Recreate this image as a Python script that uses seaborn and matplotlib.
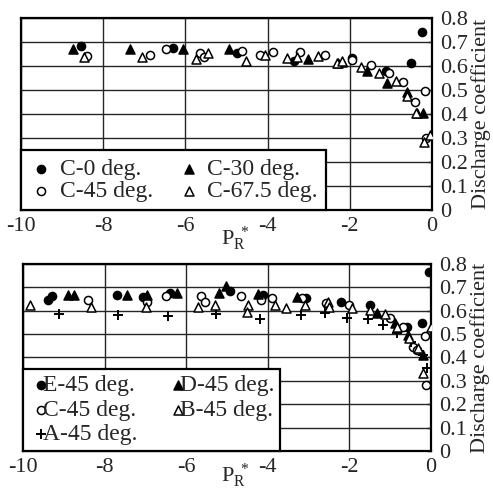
import matplotlib
matplotlib.use('Agg')
import matplotlib.pyplot as plt
import seaborn as sns

# ### Données
# Panneau du haut : configuration C, différents angles
c0_x = [-8.54, -6.31, -4.74, -3.37, -1.94, -1.12, -0.52, -0.25]
c0_y = [0.683, 0.676, 0.655, 0.622, 0.632, 0.580, 0.611, 0.743]

c30_x = [-8.74, -7.36, -6.05, -4.93, -3.02, -2.28, -2.20, -1.59, -1.09, -0.62, -0.37, -0.23]
c30_y = [0.670, 0.670, 0.669, 0.670, 0.629, 0.611, 0.618, 0.580, 0.531, 0.493, 0.403, 0.403]

c45_x = [-8.39, -6.86, -6.48, -5.64, -5.55, -4.63, -4.18, -3.88, -3.21, -2.60, -1.95,
         -1.48, -1.04, -0.70, -0.41, -0.17, -0.15]
c45_y = [0.643, 0.646, 0.670, 0.653, 0.639, 0.664, 0.646, 0.657, 0.657, 0.646, 0.625,
         0.604, 0.569, 0.535, 0.451, 0.496, 0.300]

c675_x = [-8.47, -7.06, -5.74, -5.46, -4.53, -4.06, -3.54, -3.29, -2.77, -2.32, -2.20,
          -1.73, -1.29, -0.88, -0.62, -0.40, -0.19, -0.05]
c675_y = [0.636, 0.639, 0.629, 0.655, 0.622, 0.646, 0.632, 0.639, 0.643, 0.614, 0.620,
          0.597, 0.569, 0.539, 0.475, 0.403, 0.285, 0.313]

# Panneau du bas : configurations A à E à 45 deg.
e45_x = [-9.38, -9.28, -7.70, -7.07, -6.40, -4.93, -4.11, -3.06, -2.21, -1.50, -0.58, -0.23, -0.04]
e45_y = [0.646, 0.663, 0.667, 0.660, 0.675, 0.686, 0.667, 0.653, 0.639, 0.625, 0.529, 0.546, 0.767]

d45_x = [-8.90, -8.74, -7.44, -6.95, -6.23, -5.20, -5.03, -4.25, -3.29, -1.32, -0.88, -0.56, -0.20]
d45_y = [0.667, 0.667, 0.667, 0.667, 0.675, 0.677, 0.706, 0.672, 0.657, 0.589, 0.546, 0.496, 0.411]

c45b_x = [-8.40, -6.95, -6.50, -5.64, -5.54, -4.66, -4.17, -3.90, -3.17, -2.57, -2.00,
          -1.00, -0.68, -0.45, -0.35, -0.16, -0.12]
c45b_y = [0.646, 0.639, 0.663, 0.663, 0.639, 0.663, 0.646, 0.653, 0.653, 0.632, 0.625,
          0.568, 0.529, 0.444, 0.432, 0.492, 0.282]

b45_x = [-9.83, -8.34, -6.99, -5.72, -5.29, -4.49, -4.52, -3.82, -3.56, -3.09, -2.53, -2.49,
         -1.94, -1.50, -1.13, -0.83, -0.53, -0.31, -0.01, -0.20]
b45_y = [0.625, 0.617, 0.617, 0.617, 0.625, 0.625, 0.596, 0.625, 0.610, 0.625, 0.639, 0.617,
         0.610, 0.603, 0.586, 0.532, 0.482, 0.440, 0.532, 0.332]

a45_x = [-9.11, -7.66, -6.44, -5.27, -4.19, -3.19, -2.60, -2.05, -1.54, -1.17, -0.84, -0.50, -0.20, -0.11]
a45_y = [0.586, 0.582, 0.578, 0.586, 0.563, 0.582, 0.592, 0.570, 0.563, 0.539, 0.506, 0.468, 0.410, 0.354]

x_ticks = [-10, -8, -6, -4, -2, 0]
y_ticks = [0, 0.1, 0.2, 0.3, 0.4, 0.5, 0.6, 0.7, 0.8]
y_labels = ['0', '0.1', '0.2', '0.3', '0.4', '0.5', '0.6', '0.7', '0.8']

sns.set_style('white')
plt.rcParams['font.family'] = ['Liberation Serif', 'DejaVu Serif']
plt.rcParams['mathtext.fontset'] = 'custom'
plt.rcParams['mathtext.rm'] = 'Liberation Serif'
plt.rcParams['mathtext.it'] = 'Liberation Serif'
plt.rcParams['axes.unicode_minus'] = False

fig = plt.figure(figsize=(4.93, 4.91), dpi=100)
ax1 = fig.add_axes([0.0426, 0.5723, 0.8337, 0.391])
ax2 = fig.add_axes([0.0467, 0.0815, 0.8276, 0.3809])

# (x, y, marqueur, remplissage, label)
series_top = [
    (c0_x, c0_y, 'o', 'black', 'C-0 deg.'),
    (c45_x, c45_y, 'o', 'white', 'C-45 deg.'),
    (c30_x, c30_y, '^', 'black', 'C-30 deg.'),
    (c675_x, c675_y, '^', 'white', 'C-67.5 deg.'),
]
series_bot = [
    (e45_x, e45_y, 'o', 'black', 'E-45 deg.'),
    (c45b_x, c45b_y, 'o', 'white', 'C-45 deg.'),
    (a45_x, a45_y, '+', 'black', 'A-45 deg.'),
    (d45_x, d45_y, '^', 'black', 'D-45 deg.'),
    (b45_x, b45_y, '^', 'white', 'B-45 deg.'),
]


def draw(ax, series, label_y):
    for x, y, m, fc, lab in series:
        if m == '+':
            sns.scatterplot(x=x, y=y, marker='+', color='black', s=60,
                            linewidth=1.4, ax=ax, label=lab, zorder=3)
        else:
            sns.scatterplot(x=x, y=y, marker=m, color=fc, edgecolor='black',
                            s=34 if m == 'o' else 42, linewidth=1.1, ax=ax,
                            label=lab, zorder=3)
    ax.set_xlim(-10, 0)
    ax.set_ylim(0, 0.8)
    ax.set_xticks(x_ticks)
    ax.set_xticklabels([str(t) for t in x_ticks])
    ax.set_yticks(y_ticks)
    ax.set_yticklabels(y_labels)
    ax.yaxis.tick_right()
    ax.yaxis.set_label_position('right')
    ax.tick_params(axis='x', length=0, pad=5, labelsize=16)
    ax.tick_params(axis='y', direction='in', length=3, width=1, pad=6,
                   labelsize=16, right=True, left=False)
    ax.grid(True, color='0.15', linewidth=1.0)
    ax.set_axisbelow(True)
    for sp in ax.spines.values():
        sp.set_visible(True)
        sp.set_color('black')
        sp.set_linewidth(1.6)
    ax.set_ylabel('Discharge coefficient', fontsize=16, labelpad=2)
    ax.set_xlabel(r'$\mathregular{P_R^{\ *}}$', fontsize=16)
    ax.xaxis.set_label_coords(0.52, label_y)


draw(ax1, series_top, -0.075)
draw(ax2, series_bot, -0.055)

leg1 = ax1.legend(loc='lower left', bbox_to_anchor=(0, 0), borderaxespad=0,
                  ncol=2, fontsize=17, handlelength=1.0, handletextpad=0.3,
                  labelspacing=0.0, columnspacing=1.0, borderpad=0.35,
                  fancybox=False, framealpha=1, edgecolor='black')
leg1.get_frame().set_linewidth(1.6)

leg2 = ax2.legend(loc='lower left', bbox_to_anchor=(0, 0), borderaxespad=0,
                  ncol=2, fontsize=17, handlelength=1.0, handletextpad=-0.4,
                  labelspacing=0.12, columnspacing=1.2, borderpad=0.25,
                  fancybox=False, framealpha=1, edgecolor='black')
leg2.get_frame().set_linewidth(1.6)

fig.savefig('out.png', dpi=100)
